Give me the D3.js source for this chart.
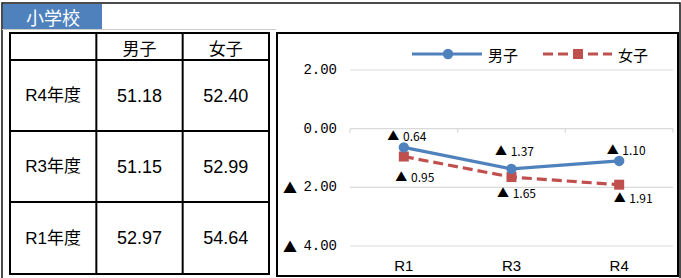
<!DOCTYPE html>
<html>
<head>
<meta charset="utf-8">
<script src="https://cdn.jsdelivr.net/npm/d3@7"></script>
<style>
  html, body { margin: 0; padding: 0; background: #fff; }
  svg { display: block; }
</style>
</head>
<body>
<svg id="chart" width="681" height="278"></svg>
<script>
// ---- data ----
const title = "小学校";
const tableHeaders = ["", "男子", "女子"];
const years = ["R4年度", "R3年度", "R1年度"];
const boysScore = ["51.18", "51.15", "52.97"];
const girlsScore = ["52.40", "52.99", "54.64"];

const periods = ["R1", "R3", "R4"];
const seriesNames = ["男子", "女子"];
const boysDiff = [-0.64, -1.37, -1.10];
const girlsDiff = [-0.95, -1.65, -1.91];
const yTicks = [2, 0, -2, -4];

// ---- layout (label nudges, px) ----
const boysLabelOffset = [[3, -12], [3, -19], [7, -12]];
const girlsLabelOffset = [[11, 19], [5, 15], [14, 12]];

const blue = "#4F81BD", red = "#C0504D";
const jp = "'Noto Sans CJK JP', 'Noto Sans', sans-serif";
const svg = d3.select("#chart");

// outer frame
svg.append("path").attr("d", "M2,278 V3 H680 V278")
  .attr("fill", "none").attr("stroke", "#111").attr("stroke-width", 1.5);
svg.append("rect").attr("x", 3).attr("y", 4).attr("width", 99).attr("height", 25).attr("fill", blue);
svg.append("line").attr("x1", 2).attr("x2", 276).attr("y1", 29.5).attr("y2", 29.5)
  .attr("stroke", "#ccc").attr("stroke-width", 1);
svg.append("text").attr("x", 53).attr("y", 16.5).attr("text-anchor", "middle")
  .attr("dominant-baseline", "central").attr("fill", "#fff")
  .attr("font-family", jp).attr("font-size", 18).text(title);

// ---- table ----
const colX = d3.scalePoint().domain([0, 1, 2, 3]).range([10, 269]);
const rowEdges = [33, 60, 131, 202, 274];
const tg = svg.append("g");
const cols = [0, 1, 2, 3].map(i => colX(i));
cols.forEach(x => tg.append("line").attr("x1", x).attr("x2", x)
  .attr("y1", rowEdges[0] - 1).attr("y2", rowEdges[4] + 1)
  .attr("stroke", "#000").attr("stroke-width", 2));
rowEdges.forEach(y => tg.append("line").attr("x1", cols[0] - 1).attr("x2", cols[3] + 1)
  .attr("y1", y).attr("y2", y).attr("stroke", "#000").attr("stroke-width", 2));
const cx = i => (cols[i] + cols[i + 1]) / 2;
const cy = r => (rowEdges[r] + rowEdges[r + 1]) / 2;
tableHeaders.forEach((h, i) => tg.append("text").attr("x", cx(i)).attr("y", cy(0) + 1)
  .attr("text-anchor", "middle").attr("dominant-baseline", "central")
  .attr("font-family", jp).attr("font-size", 17).attr("fill", "#000").text(h));
const numFont = "'Liberation Sans Narrow', 'Liberation Sans', Arial, sans-serif";
years.forEach((y, r) => {
  tg.append("text").attr("x", cx(0)).attr("y", cy(r + 1))
    .attr("text-anchor", "middle").attr("dominant-baseline", "central")
    .attr("font-family", numFont + ", " + jp).attr("font-size", 17).attr("fill", "#000").text(y);
  [boysScore[r], girlsScore[r]].forEach((v, j) => tg.append("text")
    .attr("x", cx(j + 1)).attr("y", cy(r + 1))
    .attr("text-anchor", "middle").attr("dominant-baseline", "central")
    .attr("font-family", numFont).attr("font-size", 18).attr("fill", "#000").text(v));
});

// ---- chart ----
svg.append("rect").attr("x", 277).attr("y", 33).attr("width", 401).attr("height", 243)
  .attr("fill", "#fff").attr("stroke", "#000").attr("stroke-width", 2);

const x = d3.scaleBand().domain(periods).range([350, 673]);
const y = d3.scaleLinear().domain([-4, 2]).range([246, 70]);

const cg = svg.append("g");
yTicks.forEach(t => {
  cg.append("line").attr("x1", 350).attr("x2", 673).attr("y1", y(t)).attr("y2", y(t))
    .attr("stroke", "#D9D9D9").attr("stroke-width", 1.2);
  cg.append("text").attr("x", 337).attr("y", y(t)).attr("text-anchor", "end")
    .attr("dominant-baseline", "central").attr("font-family", "'Liberation Mono', 'DejaVu Sans Mono', monospace")
    .attr("font-size", 14).attr("fill", "#000").text(Math.abs(t).toFixed(2));
  if (t < 0) cg.append("text").attr("x", 290).attr("y", y(t)).attr("text-anchor", "middle")
    .attr("dominant-baseline", "central").attr("font-family", jp).attr("font-size", 14)
    .attr("fill", "#000").text("▲");
});
// category ticks on zero line
[...periods.map(p => x(p)), 673].forEach(tx => cg.append("line")
  .attr("x1", tx).attr("x2", tx).attr("y1", y(0)).attr("y2", y(0) + 4)
  .attr("stroke", "#D9D9D9").attr("stroke-width", 1.2));
periods.forEach(p => cg.append("text").attr("x", x(p) + x.bandwidth() / 2).attr("y", 265)
  .attr("text-anchor", "middle").attr("dominant-baseline", "central")
  .attr("font-family", numFont).attr("font-size", 15).attr("fill", "#000").text(p));

const px = p => x(p) + x.bandwidth() / 2;
const line = d3.line().x(d => px(d.p)).y(d => y(d.v));
const boys = periods.map((p, i) => ({p, v: boysDiff[i]}));
const girls = periods.map((p, i) => ({p, v: girlsDiff[i]}));

cg.append("path").datum(girls).attr("d", line).attr("fill", "none")
  .attr("stroke", red).attr("stroke-width", 3.2).attr("stroke-dasharray", "10,5");
cg.append("path").datum(boys).attr("d", line).attr("fill", "none")
  .attr("stroke", blue).attr("stroke-width", 3.2);
girls.forEach(d => cg.append("rect").attr("x", px(d.p) - 5).attr("y", y(d.v) - 5)
  .attr("width", 10).attr("height", 10).attr("fill", red));
boys.forEach(d => cg.append("circle").attr("cx", px(d.p)).attr("cy", y(d.v)).attr("r", 5.2)
  .attr("fill", blue));

const lab = (d, off) => {
  const t = cg.append("text").attr("x", px(d.p) + off[0]).attr("y", y(d.v) + off[1])
    .attr("text-anchor", "middle").attr("dominant-baseline", "central")
    .attr("font-family", jp).attr("font-size", 12).attr("fill", "#000");
  t.append("tspan").text("▲");
  t.append("tspan").attr("dx", 1).text(" " + Math.abs(d.v).toFixed(2));
};
boys.forEach((d, i) => lab(d, boysLabelOffset[i]));
girls.forEach((d, i) => lab(d, girlsLabelOffset[i]));

// legend
const lg = cg.append("g");
lg.append("line").attr("x1", 412).attr("x2", 482).attr("y1", 54).attr("y2", 54)
  .attr("stroke", blue).attr("stroke-width", 3.2);
lg.append("circle").attr("cx", 448).attr("cy", 54).attr("r", 5.2).attr("fill", blue);
lg.append("text").attr("x", 488).attr("y", 54).attr("dominant-baseline", "central")
  .attr("font-family", jp).attr("font-size", 15).attr("fill", "#000").text(seriesNames[0]);
lg.append("line").attr("x1", 543).attr("x2", 612).attr("y1", 54).attr("y2", 54)
  .attr("stroke", red).attr("stroke-width", 3.2).attr("stroke-dasharray", "10,5");
lg.append("rect").attr("x", 573).attr("y", 49).attr("width", 10).attr("height", 10).attr("fill", red);
lg.append("text").attr("x", 618).attr("y", 54).attr("dominant-baseline", "central")
  .attr("font-family", jp).attr("font-size", 15).attr("fill", "#000").text(seriesNames[1]);
</script>
</body>
</html>
